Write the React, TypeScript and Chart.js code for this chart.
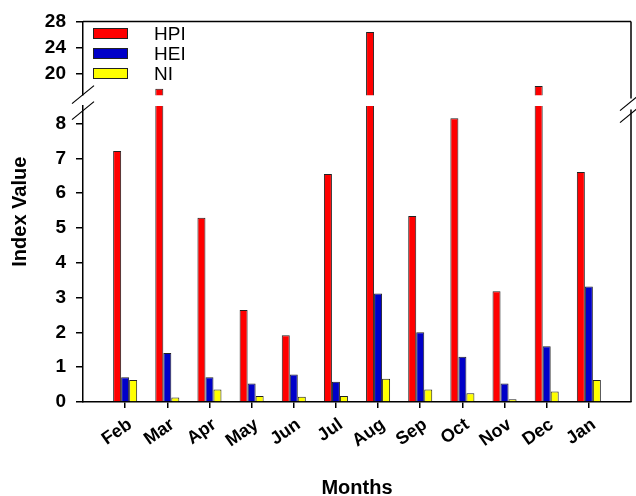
import React, { useEffect, useRef } from "react";
import { Chart, registerables } from "chart.js";

Chart.register(...registerables);

const months = ["Feb", "Mar", "Apr", "May", "Jun", "Jul", "Aug", "Sep", "Oct", "Nov", "Dec", "Jan"];
const hpi = [7.21, 17.76, 5.29, 2.64, 1.92, 6.55, 26.4, 5.34, 8.15, 3.18, 18.2, 6.61];
const hei = [0.71, 1.41, 0.71, 0.53, 0.79, 0.58, 3.12, 2.0, 1.3, 0.53, 1.6, 3.32];
const ni = [0.63, 0.13, 0.36, 0.17, 0.15, 0.17, 0.67, 0.36, 0.25, 0.08, 0.3, 0.63];
const lowerTicks = [0, 1, 2, 3, 4, 5, 6, 7, 8];
const upperTicks = [20, 24, 28];

const seriesNames = ["HPI", "HEI", "NI"];
const seriesColors = ["#ff0000", "#0000c8", "#ffff00"];

const FAMILY = "'Liberation Sans', Arial, sans-serif";
const yTickFont = { family: FAMILY, size: 19, weight: "bold" as const };
const xTickFont = { family: FAMILY, size: 18, weight: "bold" as const };

const pts = (arr: number[]) => arr.map((v, i) => ({ x: i + 1, y: v }));

const decor = {
  id: "decor",
  afterDraw(chart: any) {
    const { ctx, chartArea: a, scales } = chart;
    const up = scales.yUp;
    const low = scales.y;
    const gc = (up.bottom + low.top) / 2;
    const line = (x1: number, y1: number, x2: number, y2: number) => {
      ctx.beginPath();
      ctx.moveTo(x1, y1);
      ctx.lineTo(x2, y2);
      ctx.stroke();
    };
    ctx.save();
    ctx.strokeStyle = "#000";
    ctx.lineWidth = 1.5;
    // frame
    line(a.left, a.top, a.right, a.top);
    line(a.right, a.top, a.right, gc - 2);
    line(a.right, gc + 9, a.right, a.bottom);
    // break marks
    ctx.lineWidth = 1.2;
    const slash = (cx: number, cy: number) => line(cx - 11, cy + 9, cx + 11, cy - 9);
    slash(a.left, gc - 6);
    slash(a.left, gc + 10);
    slash(a.right, gc + 1);
    slash(a.right, gc + 13);

    // legend
    ctx.lineWidth = 1;
    ctx.font = `19px ${FAMILY}`;
    ctx.textBaseline = "middle";
    ctx.textAlign = "left";
    chart.data.datasets.slice(0, 3).forEach((ds: any, i: number) => {
      const y = 28 + i * 20;
      ctx.fillStyle = ds.backgroundColor;
      ctx.fillRect(93, y, 35, 11);
      ctx.strokeStyle = "#222";
      ctx.strokeRect(93.5, y + 0.5, 34, 10);
      ctx.fillStyle = "#000";
      ctx.fillText(ds.label, 154, y + 7);
    });

    // axis titles
    ctx.fillStyle = "#000";
    ctx.font = `bold 20px ${FAMILY}`;
    ctx.textAlign = "center";
    ctx.textBaseline = "alphabetic";
    ctx.fillText("Months", (a.left + a.right) / 2, 494);
    ctx.translate(26, (a.top + a.bottom) / 2);
    ctx.rotate(-Math.PI / 2);
    ctx.fillText("Index Value", 0, 0);
    ctx.restore();
  },
};

export default function App() {
  const ref = useRef<HTMLCanvasElement | null>(null);

  useEffect(() => {
    document.body.style.margin = "0";
    const canvas = ref.current;
    if (!canvas) return;
    const barCommon = {
      borderColor: "#222",
      borderWidth: 1,
      categoryPercentage: 0.57,
      barPercentage: 1,
    };
    const yGrid = { drawOnChartArea: false, drawTicks: true, tickLength: 7, color: "#000", lineWidth: 1.5 };
    const chart = new Chart(canvas, {
      type: "bar",
      data: {
        datasets: [
          { label: seriesNames[0], data: pts(hpi), yAxisID: "y", stack: "HPI", backgroundColor: seriesColors[0], ...barCommon },
          { label: seriesNames[1], data: pts(hei), yAxisID: "y", stack: "HEI", backgroundColor: seriesColors[1], ...barCommon },
          { label: seriesNames[2], data: pts(ni), yAxisID: "y", stack: "NI", backgroundColor: seriesColors[2], ...barCommon },
          { label: seriesNames[0] + " upper", data: pts(hpi), yAxisID: "yUp", stack: "HPI", backgroundColor: seriesColors[0], ...barCommon },
        ],
      } as any,
      options: {
        animation: false,
        responsive: false,
        devicePixelRatio: 1,
        layout: { padding: { top: 20, right: 5, bottom: 0, left: 0 } },
        plugins: { legend: { display: false }, tooltip: { enabled: false } },
        scales: {
          x: {
            type: "linear",
            position: "bottom",
            offset: false,
            min: 0,
            max: 13,
            afterBuildTicks: (s: any) => {
              s.ticks = months.map((_, i) => ({ value: i + 1 }));
            },
            afterFit: (s: any) => {
              s.height = 94;
            },
            ticks: {
              autoSkip: false,
              minRotation: 35,
              maxRotation: 35,
              padding: 6,
              labelOffset: 5,
              color: "#000",
              font: xTickFont,
              callback: (v: any) => months[Number(v) - 1] ?? "",
            },
            grid: { offset: false, drawOnChartArea: false, drawTicks: true, tickLength: 6, color: "#000", lineWidth: 1.5 },
            border: { color: "#000", width: 1.5 },
          },
          y: {
            type: "linear",
            position: "left",
            stack: "v",
            stackWeight: 297,
            stacked: false,
            min: 0,
            max: 8.5,
            afterBuildTicks: (s: any) => {
              s.ticks = lowerTicks.map((v) => ({ value: v }));
            },
            afterFit: (s: any) => {
              s.width = 83;
            },
            ticks: { color: "#000", font: yTickFont, padding: 10, autoSkip: false },
            grid: yGrid,
            border: { color: "#000", width: 1.5 },
          },
          yGap: {
            type: "linear",
            position: "left",
            stack: "v",
            stackWeight: 11,
            stacked: false,
            min: 0,
            max: 1,
            afterFit: (s: any) => {
              s.width = 83;
            },
            ticks: { display: false },
            grid: { display: false },
            border: { display: false },
          },
          yUp: {
            type: "linear",
            position: "left",
            stack: "v",
            stackWeight: 74,
            stacked: false,
            min: 16.8,
            max: 28,
            afterBuildTicks: (s: any) => {
              s.ticks = upperTicks.map((v) => ({ value: v }));
            },
            afterFit: (s: any) => {
              s.width = 83;
            },
            ticks: { color: "#000", font: yTickFont, padding: 10, autoSkip: false },
            grid: yGrid,
            border: { color: "#000", width: 1.5 },
          },
        } as any,
      },
      plugins: [decor],
    });
    return () => chart.destroy();
  }, []);

  return (
    <div style={{ width: 636, height: 496 }}>
      <canvas ref={ref} width={636} height={496} style={{ display: "block" }} />
    </div>
  );
}
